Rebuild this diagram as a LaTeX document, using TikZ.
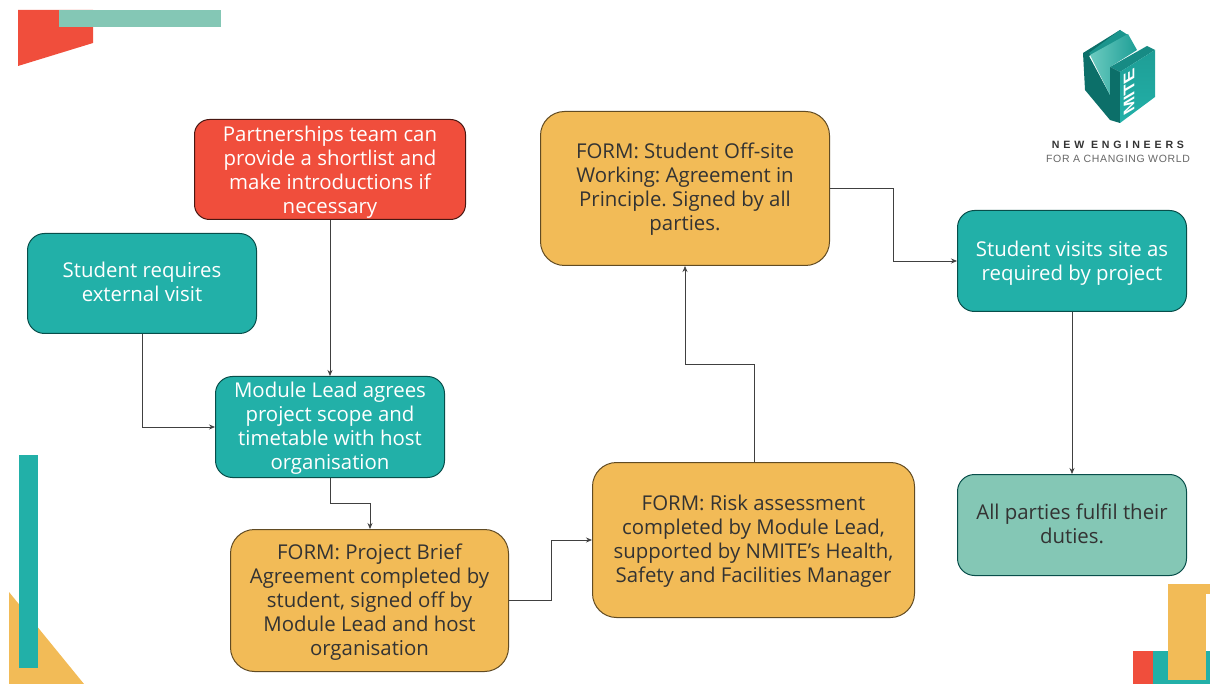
\documentclass[tikz,border=0pt]{standalone}
\usepackage{fontspec}
\setmainfont{Open Sans}
\frenchspacing
\newfontfamily\logofont{Liberation Sans}
\newfontfamily\logospaced[LetterSpace=36]{Liberation Sans}
\newfontfamily\logotight[LetterSpace=6]{Liberation Sans}
\usetikzlibrary{arrows.meta,calc}
\definecolor{cteal}{HTML}{22B0A8}
\definecolor{cmint}{HTML}{84C7B5}
\definecolor{cred}{HTML}{F04E3C}
\definecolor{cgold}{HTML}{F2BB57}
\definecolor{cdk}{HTML}{0C6F69}
\definecolor{cmd}{HTML}{1E9E96}
\definecolor{clt}{HTML}{6CCBC0}
\tikzset{
 base/.style={line width=1pt,inner sep=0pt,anchor=north west,font=\fontsize{20.4}{24}\selectfont},
 tealbox/.style={base,draw=black!30!cdk,fill=cteal,text=white,rounded corners=17pt},
 redbox/.style={base,draw=black!70!cred,fill=cred,text=white,rounded corners=15pt},
 goldbox/.style={base,draw=black!60!cgold,fill=cgold,text=black!80,rounded corners=24pt},
 mintbox/.style={base,draw=black!30!cdk,fill=cmint,text=black!80,rounded corners=17pt},
 link/.style={draw=black!75,line width=0.7pt,-{Stealth[length=6pt,width=5pt]}},
}
% style, name, x0, y0, x1, y1, vertical shift, lines
\newcommand{\bx}[8]{\node[#1,minimum width=#5pt-#3pt-1pt,minimum height=#6pt-#4pt-1pt] (#2) at (#3,#4)
  {\raisebox{\dimexpr #7pt-5pt\relax}[0pt][0pt]{\begin{tabular}[c]{@{}c@{}}#8\end{tabular}}};}
\begin{document}
\begin{tikzpicture}[x=1pt,y=-1pt]
\useasboundingbox (0,0) rectangle (1210,684);
% decorations
\fill[cred] (18,10) -- (93,10) -- (93,43) -- (18,66) -- cycle;
\fill[cmint] (59,10) rectangle (221,27);
\fill[cgold] (9,592) -- (84,684) -- (9,684) -- cycle;
\fill[cteal] (19,455) rectangle (38,668);
\fill[cred] (1133,651) rectangle (1153,684);
\fill[cteal] (1153,651) rectangle (1210,684);
\fill[cgold] (1168,584) rectangle (1206,680);
\fill[cgold] (1206,584) rectangle (1210,594);
% logo
\fill[cdk] (1083,53) -- (1120,30) -- (1124,35) -- (1089,56) -- (1110,95) -- (1110,120) -- (1085,90) -- cycle;
\fill[cmd!80!cdk] (1089,53) -- (1120,30) -- (1128,35) -- (1095,57) -- cycle;
\shade[left color=clt,right color=cmd] (1090,55) -- (1128,34) -- (1137,50) -- (1110,67) -- (1110,95) -- cycle;
\fill[cmd!60!cdk] (1110,67) -- (1147,46) -- (1155,50) -- (1120,72) -- cycle;
\fill[cdk] (1110,67) -- (1120,72) -- (1120,123) -- (1110,120) -- cycle;
\shade[bottom color=cteal,top color=cmd] (1120,72) -- (1155,50) -- (1155,97) -- (1120,123) -- cycle;
\node[text=white,inner sep=0pt,cm={0,1,-0.85,-0.5,(0,0)},font=\logofont\bfseries\fontsize{18}{18}\selectfont] (mite) at (1129,92) {MITE};
\node[font=\logospaced\bfseries\fontsize{10.6}{10}\selectfont,text=black!80,inner sep=0pt] (ne) at (1118,145) {NEW ENGINEERS};
\node[font=\logotight\fontsize{10.5}{10}\selectfont,text=black!60,inner sep=0pt] (fc) at (1118,159) {FOR A CHANGING WORLD};
% boxes
\bx{redbox}{partner}{194}{119}{466}{220}{-3}{Partnerships team can\\provide a shortlist and\\make introductions if\\necessary}
\bx{tealbox}{student}{27}{233}{257}{334}{-1}{Student requires\\external visit}
\bx{tealbox}{module}{215}{376}{445}{478}{-2}{Module Lead agrees\\project scope and\\timetable with host\\organisation}
\bx{goldbox}{brief}{230}{529}{509}{672}{-2}{FORM: Project Brief\\Agreement completed by\\student, signed off by\\Module Lead and host\\organisation}
\bx{goldbox}{risk}{592}{462}{915}{618}{-2}{FORM: Risk assessment\\completed by Module Lead,\\supported by NMITE’s Health,\\Safety and Facilities Manager}
\bx{goldbox}{offsite}{540}{111}{830}{266}{-1}{FORM: Student Off-site\\Working: Agreement in\\Principle. Signed by all\\parties.}
\bx{tealbox}{visit}{957}{210}{1187}{312}{-3}{Student visits site as\\required by project}
\bx{mintbox}{duties}{957}{474}{1187}{576}{-2}{All parties fulfil their\\duties.}
% connectors
\draw[link] (partner.south) -- (module.north);
\draw[link] (student.south -| 142,0) |- (module.west);
\draw[link] (module.south) -- ++(0,25) -| ($(brief.north west)+(140,0)$);
\draw[link] ($(brief.north east)+(0,71)$) -- ++(42,0) |- ($(risk.north west)+(0,78)$);
\draw[link] ($(risk.north west)+(162,0)$) -- ++(0,-98) -| ($(offsite.south west)+(145,0)$);
\draw[link] ($(offsite.north east)+(0,77)$) -- ++(63,0) |- (visit.west);
\draw[link] (visit.south) -- (duties.north);
\end{tikzpicture}
\end{document}
